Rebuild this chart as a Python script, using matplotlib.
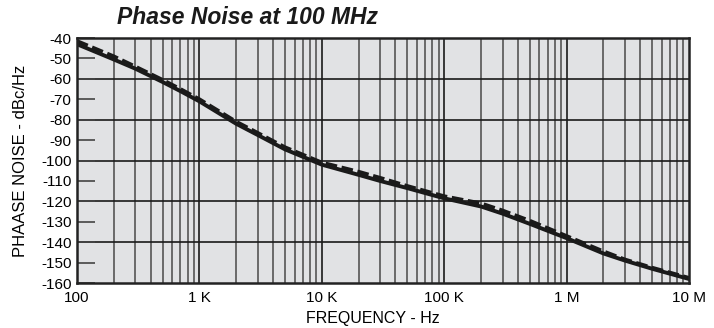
import numpy as np
import matplotlib.pyplot as plt
from matplotlib.ticker import FixedLocator, NullFormatter

plt.rcParams['font.family'] = ['Liberation Sans', 'DejaVu Sans']

freq = [100, 200, 300, 500, 700, 1e3, 2e3, 3e3, 5e3, 1e4, 2e4, 3e4, 5e4,
        1e5, 2e5, 3e5, 5e5, 1e6, 2e6, 3e6, 5e6, 1e7]
noise_solid = [-43, -50.5, -55, -61.5, -66, -71, -82, -87.5, -94.5, -102,
               -107, -110, -113.5, -118.5, -122.5, -126, -131, -138, -145.5,
               -149, -153, -158]
noise_dashed = [-41.5, -49, -54, -60.5, -65, -70, -81, -86.5, -93.5, -101,
                -105.5, -108.5, -112.5, -117.5, -121, -124.5, -129.5, -137,
                -144.5, -148.5, -152.5, -157.5]

xtick_vals = [1e2, 1e3, 1e4, 1e5, 1e6, 1e7]
xtick_labels = ['100', '1 K', '10 K', '100 K', '1 M', '10 M']
ytick_vals = list(range(-160, -39, 10))

fig = plt.figure(figsize=(7.14, 3.28), dpi=100)
ax = fig.add_axes([0.1078, 0.137, 0.8572, 0.747])
ax.set_facecolor('#e1e2e4')

ax.set_xscale('log')
ax.set_xlim(100, 1e7)
ax.set_ylim(-160, -40)

# vertical grid: 2..9 per decade grey, decades black
minor = [m * 10 ** d for d in range(2, 7) for m in range(2, 10)]
for x in minor:
    ax.axvline(x, color='#606060', lw=1.3, zorder=1)
for x in xtick_vals[1:-1]:
    ax.axvline(x, color='#1a1a1a', lw=1.2, zorder=1)
for y in range(-140, -40, 20):
    ax.axhline(y, color='#1a1a1a', lw=1.2, zorder=1)

ax.plot(freq, noise_solid, color='#1a1a1a', lw=2.8, zorder=3,
        solid_capstyle='round', solid_joinstyle='round')
ax.plot(freq, noise_dashed, color='#1a1a1a', lw=2.8, ls=(0, (3, 1.2)),
        zorder=3)

ax.xaxis.set_major_locator(FixedLocator(xtick_vals))
ax.set_xticklabels(xtick_labels)
ax.xaxis.set_minor_formatter(NullFormatter())
ax.tick_params(axis='x', which='both', length=0, labelsize=11, pad=6)

ax.set_yticks(ytick_vals)
ax.set_yticklabels([str(v) for v in ytick_vals])
ax.tick_params(axis='y', direction='in', length=13, width=1.2,
               color='#444444', labelsize=11, pad=4)

for s in ax.spines.values():
    s.set_color('#222222')
    s.set_linewidth(1.8)
    s.set_zorder(4)

ax.set_xlabel('FREQUENCY - Hz', fontsize=11.5)
ax.xaxis.set_label_coords(0.483, -0.115, transform=ax.transAxes)
ax.xaxis.label.set_va('top')
ax.set_ylabel('PHAASE NOISE - dBc/Hz', fontsize=12)
ax.yaxis.set_label_coords(-0.093, 0.5, transform=ax.transAxes)
ax.yaxis.label.set_va('center')

fig.text(117 / 714, 1 - 18 / 328, 'Phase Noise at 100 MHz', fontsize=16.5,
         fontweight='bold', fontstyle='italic', va='center', ha='left',
         color='#1a1a1a')

fig.savefig('out.png', dpi=100)
